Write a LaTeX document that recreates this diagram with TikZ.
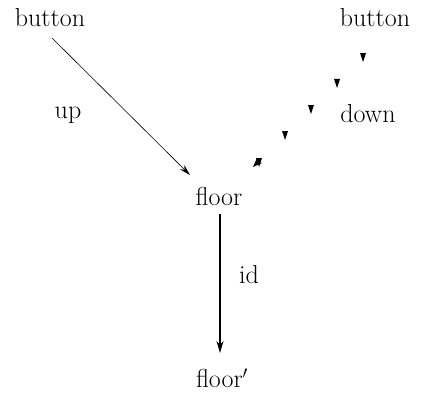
\documentclass[tikz,border=0pt]{standalone}
\usetikzlibrary{calc,arrows.meta}
\begin{document}
\begin{tikzpicture}[x=1pt,y=-1pt,
  lbl/.style={inner sep=0pt,font=\fontsize{26}{30}\selectfont},
  thinarrow/.style={line width=0.6pt,-{Stealth[length=11pt,width=6pt]}},
  idarrow/.style={line width=1.4pt,-{Stealth[length=12pt,width=7pt]}},
  tick/.style={fill=black}]
\useasboundingbox (0,0) rectangle (428,392);
\node[lbl] (b1) at (50,18) {button};
\node[lbl] (b2) at (375,18) {button};
\node[lbl] (fl) at (219,196) {floor};
\node[lbl] (fp) at (222,378) {floor$'$};
\node[lbl] (up) at (68,115) {up};
\node[lbl] (dn) at (368,114) {down};
\node[lbl] (id) at (249,275) {id};
\coordinate (s1) at ($(b1)+(2,20)$);
\coordinate (e1) at ($(fl)+(-29,-21)$);
\draw[thinarrow] (s1) -- (e1);
\coordinate (s3) at ($(fl)+(1,18)$);
\coordinate (e3) at ($(fl)+(1,157)$);
\draw[idarrow] (s3) -- (e3);
\coordinate (s2) at ($(b2)+(-12,39)$);
\coordinate (e2) at ($(fl)+(66,-61)$);
\foreach \p in {0,0.333,0.667,1}{
  \fill[tick] ($(s2)!\p!(e2)$) ++(-3,-4) -- ++(6,0) -- ++(-3,9) -- cycle;
}
\coordinate (e4) at ($(fl)+(40,-34)$);
\fill[tick] (e4) ++(-3,-4) -- ++(6,0) -- ++(-3,9) -- cycle;
\fill[tick] ($(e4)+(-6,5)$) -- ++(4,-9) -- ++(0,4) -- ++(5,1) -- cycle;
\end{tikzpicture}
\end{document}
